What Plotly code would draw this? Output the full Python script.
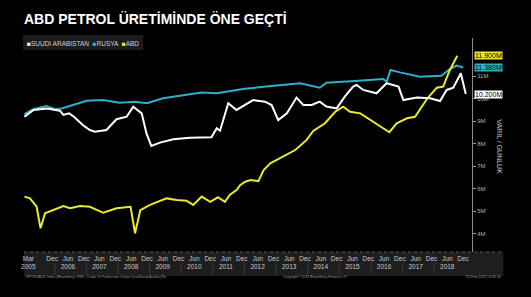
import plotly.graph_objects as go

# ---- data, million barrels / day ----
saudi_dates = ["2005-01-15","2005-05-01","2005-10-01","2006-03-01","2006-04-10","2006-06-15","2006-08-10",
               "2006-11-20","2007-02-10","2007-04-10","2007-08-20","2007-12-15","2008-04-10","2008-06-25",
               "2008-10-01","2008-11-25","2009-01-20","2009-04-30","2009-10-01","2010-04-10","2010-12-15",
               "2011-02-15","2011-03-25","2011-06-28","2011-10-01","2012-01-05","2012-04-10","2012-08-25",
               "2012-11-10","2013-01-25","2013-05-05","2013-08-25","2013-11-10","2014-02-15","2014-05-20",
               "2014-08-05","2014-12-01","2015-03-05","2015-06-10","2015-07-20","2015-10-05","2016-03-05",
               "2016-07-01","2016-11-15","2017-01-10","2017-06-15","2017-11-15","2018-03-10","2018-05-25",
               "2018-08-10","2018-11-05","2019-01-01"]
saudi_values = [9.19,9.49,9.56,9.46,9.27,9.34,9.19,8.82,8.60,8.52,8.60,9.08,9.19,9.64,9.34,8.45,7.89,8.04,8.19,
                8.26,8.28,8.68,8.57,9.79,9.49,9.71,9.93,9.86,9.71,9.04,9.34,10.04,9.71,9.71,9.86,9.64,9.56,
                10.08,10.53,10.60,10.38,10.23,10.68,10.53,9.93,10.04,10.01,9.89,10.38,10.48,11.12,10.20]

russia_dates = ["2005-01-15","2005-04-25","2005-09-25","2006-01-05","2006-03-20","2006-07-30","2007-01-05",
                "2007-07-10","2008-01-20","2008-07-15","2008-11-30","2009-06-05","2009-12-15","2010-08-25",
                "2011-02-15","2011-07-15","2012-01-05","2012-09-10","2013-10-05","2014-05-20","2014-08-05",
                "2015-07-01","2016-05-20","2016-07-01","2016-08-15","2016-12-01","2017-07-20","2018-03-25",
                "2018-07-01","2018-09-15","2018-12-01"]
russia_values = [9.30,9.52,9.67,9.52,9.56,9.71,9.90,9.93,9.81,9.86,9.79,10.01,10.11,10.27,10.23,10.33,10.43,
                 10.53,10.68,10.48,10.70,10.78,10.87,10.75,11.27,11.16,10.97,11.01,11.31,11.46,11.38]

usa_dates = ["2005-01-15","2005-03-20","2005-06-05","2005-07-20","2005-09-10","2005-12-15","2006-04-10",
             "2006-06-25","2006-10-20","2007-02-10","2007-07-15","2007-12-15","2008-05-25","2008-07-16",
             "2008-09-15","2009-01-05","2009-07-15","2009-11-10","2010-03-01","2010-05-20","2010-08-25",
             "2010-12-01","2011-03-01","2011-05-20","2011-07-15","2011-10-01","2011-11-15","2012-01-10",
             "2012-03-10","2012-06-10","2012-08-10","2012-10-25","2013-03-25","2013-08-10","2013-12-20",
             "2014-03-05","2014-07-20","2014-11-15","2015-02-15","2015-05-05","2015-09-01","2016-01-30",
             "2016-05-20","2016-08-01","2016-10-25","2017-02-20","2017-05-25","2017-08-10","2017-10-15",
             "2018-02-01","2018-04-15","2018-07-01","2018-09-25"]
usa_values = [5.64,5.56,5.19,4.23,4.90,5.04,5.22,5.12,5.22,5.19,4.92,5.12,5.19,4.01,5.04,5.27,5.56,5.49,5.46,
              5.27,5.64,5.41,5.61,5.41,5.71,5.93,6.16,6.30,6.38,6.33,6.82,7.12,7.41,7.71,8.16,8.56,8.90,9.41,
              9.64,9.41,9.34,8.97,8.70,8.50,8.90,9.12,9.19,9.64,10.01,10.48,10.53,11.27,11.90]

series_names = ["SUUDI ARABISTAN", "RUSYA", "ABD"]
last_labels = ["10.200M", "11.380M", "11.900M"]
last_values = [10.20, 11.38, 11.90]

tick_dates = ["2005-03-01"]
tick_text = ["Mar<br>2005"]
for yr in range(2005, 2019):
    if yr >= 2006:
        tick_dates.append(f"{yr}-06-01"); tick_text.append(f"Jun<br>{yr}")
    tick_dates.append(f"{yr}-12-01"); tick_text.append("Dec")

y_tick_vals = [4, 5, 6, 7, 8, 9, 10, 11]
y_tick_text = ["4M", "5M", "6M", "7M", "8M", "9M", "10M", "11M"]

WHITE = "#ffffff"
CYAN = "#2ab2c8"
YELLOW = "#e8ea2a"
colors = [WHITE, CYAN, YELLOW]

fig = go.Figure()
fig.add_trace(go.Scatter(x=russia_dates, y=russia_values, mode="lines", name="RUSYA",
                         line=dict(color=CYAN, width=2)))
fig.add_trace(go.Scatter(x=usa_dates, y=usa_values, mode="lines", name="ABD",
                         line=dict(color=YELLOW, width=2)))
fig.add_trace(go.Scatter(x=saudi_dates, y=saudi_values, mode="lines", name="SUUDI ARABISTAN",
                         line=dict(color=WHITE, width=2)))

# bottom band + separators
shapes = [
    dict(type="rect", xref="paper", yref="paper", x0=0, x1=1.07, y0=-0.112, y1=0,
         fillcolor="#1e1e1e", line=dict(width=0), layer="below"),
    dict(type="line", xref="paper", yref="paper", x0=0, x1=1.07, y0=0, y1=0,
         line=dict(color="#5a5a5a", width=1, dash="dot")),
]
for yr in range(2006, 2019):
    shapes.append(dict(type="line", xref="x", yref="paper", x0=f"{yr}-01-01", x1=f"{yr}-01-01",
                       y0=-0.105, y1=-0.05, line=dict(color="#3a3a3a", width=1)))
# legend box
shapes.append(dict(type="rect", xref="paper", yref="paper", x0=-0.002, x1=0.266, y0=0.944, y1=1.014,
                   fillcolor="#1c1c1c", line=dict(width=0), layer="below"))

annotations = [
    dict(text="<b>ABD PETROL ÜRETİMİNDE ÖNE GEÇTİ</b>", xref="paper", yref="paper", x=-0.004, y=1.091,
         xanchor="left", yanchor="middle", showarrow=False,
         font=dict(family="Liberation Sans, Arial", size=14, color="#ffffff")),
    dict(text=("<span style='color:%s'>■</span>%s  <span style='color:%s'>■</span>%s  "
               "<span style='color:%s'>■</span>%s") % (WHITE, series_names[0], CYAN, series_names[1],
                                                         YELLOW, series_names[2]),
         xref="paper", yref="paper", x=0.002, y=0.975, xanchor="left", yanchor="middle", showarrow=False,
         font=dict(family="Liberation Sans, Arial", size=6.5, color="#d0d0d0")),
    dict(text="VARIL / GUNLUK", textangle=90, xref="paper", yref="paper", x=1.062, y=0.49,
         xanchor="center", yanchor="middle", showarrow=False,
         font=dict(family="Liberation Sans, Arial", size=7, color="#c8c8c8")),
    dict(text="DPORSAUD Index (Bloomberg OPEC Crude Oil Production Output Data/Saudi Arabia) Ru",
         xref="paper", yref="paper", x=0, y=-0.1, xanchor="left", yanchor="top", showarrow=False,
         font=dict(family="Liberation Sans, Arial", size=3.5, color="#9a9a9a")),
    dict(text="Copyright© 2019 Bloomberg Finance L.P.",
         xref="paper", yref="paper", x=0.573, y=-0.1, xanchor="left", yanchor="top", showarrow=False,
         font=dict(family="Liberation Sans, Arial", size=3.5, color="#9a9a9a")),
    dict(text="22-Feb-2019 13:49:30",
         xref="paper", yref="paper", x=1.07, y=-0.1, xanchor="right", yanchor="top", showarrow=False,
         font=dict(family="Liberation Sans, Arial", size=3.5, color="#9a9a9a")),
]
for lab, val, col in zip(last_labels, last_values, colors):
    annotations.append(dict(text=lab, xref="paper", yref="y", x=1.004, y=val, xanchor="left",
                            yanchor="middle", showarrow=False, bgcolor=col, borderpad=0,
                            font=dict(family="Liberation Sans, Arial", size=7, color="#000000")))

fig.update_layout(
    width=531, height=297,
    margin=dict(l=24, r=59, t=38, b=45),
    paper_bgcolor="#000000", plot_bgcolor="#000000",
    showlegend=False,
    shapes=shapes, annotations=annotations,
    xaxis=dict(type="date", range=["2005-01-10", "2019-03-14"], showgrid=False, zeroline=False,
               tickmode="array", tickvals=tick_dates, ticktext=tick_text, ticks="",
               tickfont=dict(family="Liberation Sans, Arial", size=6.5, color="#c8c8c8"),
               showline=False, ticklabelstandoff=1),
    yaxis=dict(side="right", range=[3.178, 12.689], showgrid=False, zeroline=False,
               tickmode="array", tickvals=y_tick_vals, ticktext=y_tick_text,
               ticks="outside", ticklen=3, tickcolor="#9a9a9a",
               tickfont=dict(family="Liberation Sans, Arial", size=6, color="#b0b0b0"),
               showline=True, linecolor="#8a8a8a", linewidth=1),
)

fig.write_html("out.html")
